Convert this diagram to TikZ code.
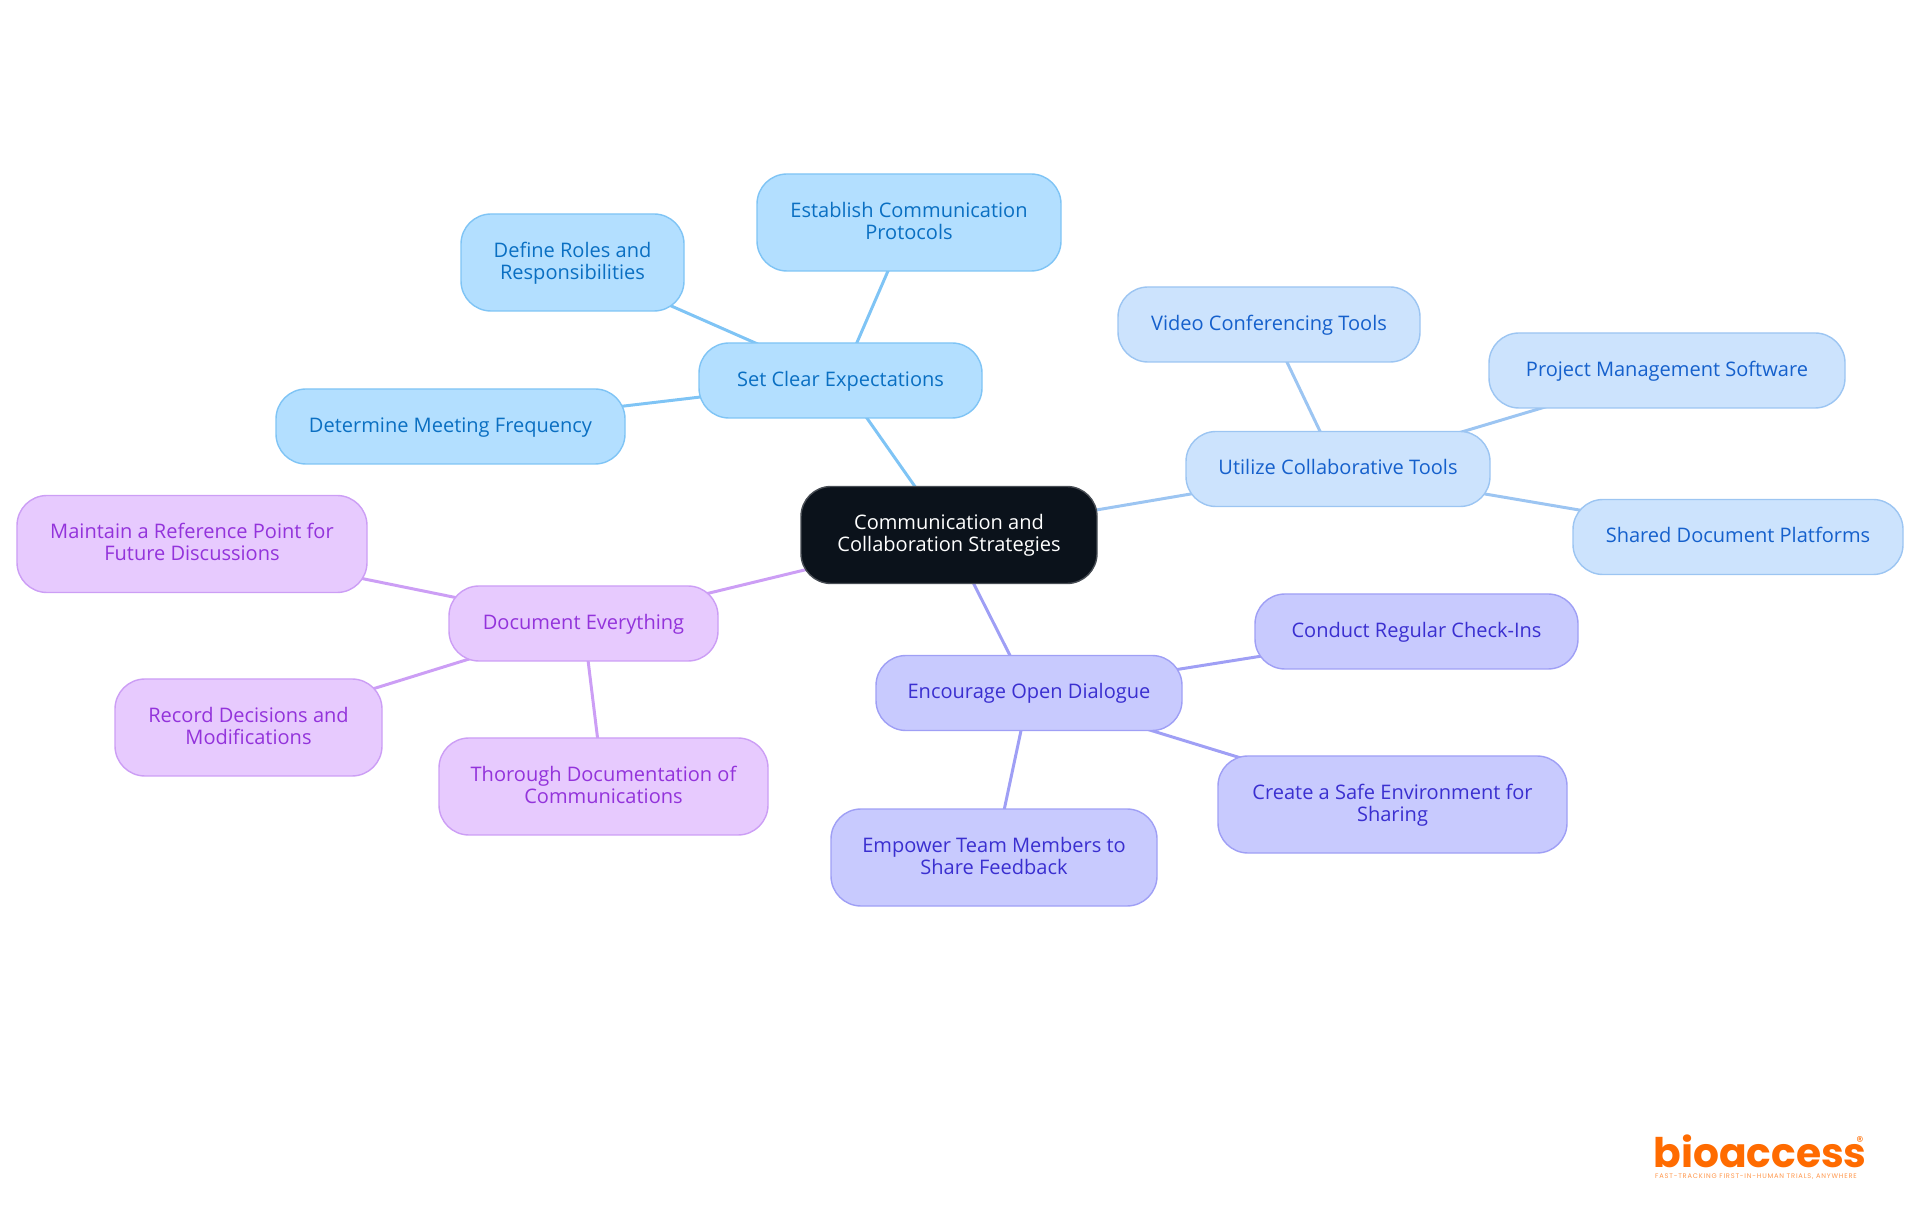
\documentclass[tikz,border=0pt]{standalone}
\usepackage{fontspec}
\setmainfont{Open Sans}
\newfontfamily\logofont{Poppins}
\newfontfamily\logotagfont[LetterSpace=12]{Poppins}
\usetikzlibrary{backgrounds}

\definecolor{skyfill}{HTML}{B3DFFF}
\definecolor{skyline}{HTML}{7FC4F5}
\definecolor{skytext}{HTML}{0A6FC2}
\definecolor{bluefill}{HTML}{CCE3FD}
\definecolor{blueline}{HTML}{9CC5F2}
\definecolor{bluetext}{HTML}{1560CC}
\definecolor{indigofill}{HTML}{C8CAFE}
\definecolor{indigoline}{HTML}{9F9FF5}
\definecolor{indigotext}{HTML}{3A2FD0}
\definecolor{purplefill}{HTML}{E7CAFE}
\definecolor{purpleline}{HTML}{CC9EF5}
\definecolor{purpletext}{HTML}{9333DB}
\definecolor{rootfill}{HTML}{0B121B}
\definecolor{logoorange}{HTML}{FF6B00}

% two centred lines with the same height and depth in every node
\newcommand{\twolines}[2]{\rule{0pt}{.172cm}#1\\#2\rule[-.06cm]{0pt}{.06cm}}

\begin{document}
\begin{tikzpicture}[ele/.style={align=center,inner sep=0pt,rounded corners=.3cm,
        line width=.4pt,font=\fontsize{5.7}{6.3}\selectfont},
    low/.style={ele,minimum height=.75cm,text height=.14cm,text depth=.02cm},
    high/.style={ele,minimum height=.97cm},
    sky/.style={fill=skyfill,draw=skyline,text=skytext},
    blue/.style={fill=bluefill,draw=blueline,text=bluetext},
    indigo/.style={fill=indigofill,draw=indigoline,text=indigotext},
    purple/.style={fill=purplefill,draw=purpleline,text=purpletext},
    link/.style={line width=.85pt}]

    \useasboundingbox (0,0) rectangle (19.2,12.15);

    % the root
    \node[high,fill=rootfill,draw=rootfill!75!white,text=white,minimum width=2.96cm] (root) at (9.49,6.80) {\twolines{Communication and}{Collaboration Strategies}};

    % the sky branch
    \node[low,sky,minimum width=2.83cm] (expect) at (8.405,8.345) {Set Clear Expectations};
    \node[high,sky,minimum width=3.04cm] (protocols) at (9.09,9.925) {\twolines{Establish Communication}{Protocols}};
    \node[high,sky,minimum width=2.23cm] (roles) at (5.725,9.525) {\twolines{Define Roles and}{Responsibilities}};
    \node[low,sky,minimum width=3.49cm] (meeting) at (4.505,7.885) {Determine Meeting Frequency};

    % the blue branch
    \node[low,blue,minimum width=3.04cm] (tools) at (13.38,7.46) {Utilize Collaborative Tools};
    \node[low,blue,minimum width=3.02cm] (video) at (12.69,8.905) {Video Conferencing Tools};
    \node[low,blue,minimum width=3.56cm] (project) at (16.67,8.445) {Project Management Software};
    \node[low,blue,minimum width=3.30cm] (shared) at (17.38,6.78) {Shared Document Platforms};

    % the indigo branch
    \node[low,indigo,minimum width=3.06cm] (dialogue) at (10.29,5.22) {Encourage Open Dialogue};
    \node[low,indigo,minimum width=3.23cm] (checkins) at (14.165,5.835) {Conduct Regular Check-Ins};
    \node[high,indigo,minimum width=3.49cm] (safe) at (13.925,4.105) {\twolines{Create a Safe Environment for}{Sharing}};
    \node[high,indigo,minimum width=3.26cm] (feedback) at (9.94,3.575) {\twolines{Empower Team Members to}{Share Feedback}};

    % the purple branch
    \node[low,purple,minimum width=2.69cm] (document) at (5.835,5.915) {Document Everything};
    \node[high,purple,minimum width=3.50cm] (reference) at (1.92,6.71) {\twolines{Maintain a Reference Point for}{Future Discussions}};
    \node[high,purple,minimum width=2.67cm] (record) at (2.485,4.875) {\twolines{Record Decisions and}{Modifications}};
    \node[high,purple,minimum width=3.29cm] (thorough) at (6.035,4.285) {\twolines{Thorough Documentation of}{Communications}};

    % the links
    \begin{pgfonlayer}{background}
      \draw[link,skyline] (root.center) to (expect.center);
      \draw[link,skyline] (expect.center) to (protocols.center);
      \draw[link,skyline] (expect.center) to (roles.center);
      \draw[link,skyline] (expect.center) to (meeting.center);
      \draw[link,blueline] (root.center) to (tools.center);
      \draw[link,blueline] (tools.center) to (video.center);
      \draw[link,blueline] (tools.center) to (project.center);
      \draw[link,blueline] (tools.center) to (shared.center);
      \draw[link,indigoline] (root.center) to (dialogue.center);
      \draw[link,indigoline] (dialogue.center) to (checkins.center);
      \draw[link,indigoline] (dialogue.center) to (safe.center);
      \draw[link,indigoline] (dialogue.center) to (feedback.center);
      \draw[link,purpleline] (root.center) to (document.center);
      \draw[link,purpleline] (document.center) to (reference.center);
      \draw[link,purpleline] (document.center) to (record.center);
      \draw[link,purpleline] (document.center) to (thorough.center);
    \end{pgfonlayer}

    % the logo
    \node[inner sep=0pt,text=logoorange,font=\logofont\bfseries\fontsize{11.6}{12}\selectfont] (logo) at (17.60,0.64) {bioaccess};
    \node[inner sep=0pt,text=logoorange,font=\logofont\fontsize{4}{4}\selectfont] (mark) at (18.60,0.73) {®};
    \node[inner sep=0pt,text=logoorange!70!white,font=\logotagfont\fontsize{1.9}{3}\selectfont] (tagline) at (17.56,0.38) {FAST-TRACKING FIRST-IN-HUMAN TRIALS, ANYWHERE};
  \end{tikzpicture}
\end{document}
